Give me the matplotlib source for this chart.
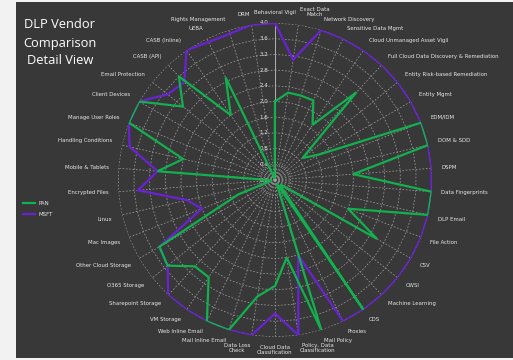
import numpy as np
import matplotlib
matplotlib.use("Agg")
import matplotlib.pyplot as plt
from matplotlib.patches import Rectangle

categories = [
    "Behavioral Vigil", "Exact Data\nMatch", "Network Discovery",
    "Sensitive Data Mgmt", "Cloud Unmanaged Asset Vigil",
    "Full Cloud Data Discovery & Remediation", "Entity Risk-based Remediation",
    "Entity Mgmt", "EDM/IDM", "DOM & SDD", "DSPM", "Data Fingerprints",
    "DLP Email", "File Action", "CSV", "CWSI", "Machine Learning", "CDS",
    "Proxies", "Mail Policy", "Policy, Data\nClassification",
    "Cloud Data\nClassification", "Data Loss\nCheck", "Mail Inline Email",
    "Web Inline Email", "VM Storage", "Sharepoint Storage", "O365 Storage",
    "Other Cloud Storage", "Mac Images", "Linux", "Encrypted Files",
    "Mobile & Tablets", "Handling Conditions", "Manage User Roles",
    "Client Devices", "Email Protection", "CASB (API)", "CASB (Inline)",
    "UEBA", "Rights Management", "DRM",
]

series_names = ["PAN", "MSFT"]

pan_scores = [
    2.0, 2.25, 2.25, 2.25, 1.7, 3.05, 0.9, 1.3, 4.0, 4.0, 2.0, 4.0, 4.0, 2.0,
    3.0, 0.2, 0.2, 4.0, 0.1, 4.0, 2.0, 2.7, 3.0, 4.0, 4.0, 3.0, 3.0, 3.5,
    3.4, 1.0, 0.1, 0.1, 3.0, 2.4, 4.0, 4.0, 3.0, 3.6, 2.0, 2.9, 0.05, 0.05,
]

msft_scores = [
    4.0, 3.1, 4.0, 4.0, 4.0, 4.0, 4.0, 4.0, 4.0, 4.0, 4.0, 4.0, 4.0, 4.0,
    4.0, 4.0, 4.0, 4.0, 4.0, 2.0, 4.0, 3.4, 4.0, 4.0, 4.0, 4.0, 4.0, 3.5,
    3.4, 2.0, 2.3, 3.5, 3.0, 3.8, 4.0, 4.0, 3.5, 3.4, 4.0, 3.9, 3.9, 4.0,
]

ring_values = [0.0, 0.4, 0.8, 1.2, 1.6, 2.0, 2.4, 2.8, 3.2, 3.6, 4.0]

series_colors = ["#12b04e", "#6a22d4"]
panel_color = "#383838"
grid_color = "#9a9a9a"
text_color = "#e6e6e6"

W, H = 513, 360
fig = plt.figure(figsize=(W / 100, H / 100), dpi=100)
fig.patch.set_facecolor("#f2f2f2")
fig.add_artist(Rectangle((16 / W, 2 / H), 1 - 16 / W, 1 - 4 / H,
                         transform=fig.transFigure, facecolor=panel_color,
                         edgecolor="none", zorder=-10))

cx, cy, R = 275, 180, 157
ax = fig.add_axes([(cx - R) / W, (H - cy - R) / H, 2 * R / W, 2 * R / H],
                  projection="polar")
ax.set_zorder(2)
ax.set_facecolor("none")
ax.set_theta_zero_location("N")
ax.set_theta_direction(-1)
ax.set_ylim(0, 4.0)
ax.grid(False)
ax.spines["polar"].set_visible(False)
ax.set_xticks([])
ax.set_yticks([])

n = len(categories)
theta = np.arange(n) * 2 * np.pi / n
theta_closed = np.append(theta, theta[0])

# polygon rings
for rv in ring_values[1:]:
    ax.plot(theta_closed, np.full(n + 1, rv), color=grid_color, lw=0.55,
            ls=(0, (2.2, 2.2)), zorder=1)
# spokes
for t in theta:
    ax.plot([t, t], [0, 4.0], color=grid_color, lw=0.55, ls=(0, (2.2, 2.2)),
            zorder=1)
# value axis along the first spoke
ax.plot([0, 0], [0, 4.0], color="#b0b0b0", lw=0.7, zorder=2)
for rv in ring_values:
    ax.annotate(f"{rv:.1f}", xy=(0, rv), xytext=(-5, 0),
                textcoords="offset points", ha="right", va="center",
                fontsize=4.0, color=text_color, zorder=3)

# series
lines = []
for vals, color, name, z in [(msft_scores, series_colors[1], series_names[1], 4),
                             (pan_scores, series_colors[0], series_names[0], 5)]:
    v = np.append(vals, vals[0])
    ln, = ax.plot(theta_closed, v, color=color, lw=1.6, zorder=z, label=name,
                  solid_joinstyle="miter")
    lines.append(ln)

# category labels
for t, lab in zip(theta, categories):
    s = np.sin(t)
    c = np.cos(t)
    if abs(s) < 0.05:
        ha = "center"
    elif s > 0:
        ha = "left"
    else:
        ha = "right"
    if abs(c) < 0.15:
        va = "center"
    elif c > 0:
        va = "bottom"
    else:
        va = "top"
    ax.annotate(lab, xy=(t, 4.0), xytext=(s * 7, c * 6),
                textcoords="offset points", ha=ha, va=va, fontsize=3.9,
                color=text_color, zorder=3, linespacing=1.0,
                multialignment="center")

# title
fig.text(60 / W, 1 - 43 / H, "DLP Vendor\nComparison\nDetail View",
         ha="center", va="center", fontsize=9.3, color="white",
         family="Open Sans", linespacing=1.5)

# legend
fig.legend(handles=lines[::-1], labels=series_names, loc="center left",
           bbox_to_anchor=(18 / W, 1 - 209 / H), frameon=False, fontsize=4.0,
           labelcolor=text_color, handlelength=2.2, handletextpad=0.6,
           labelspacing=1.0)

fig.savefig("out.png", dpi=100, facecolor=fig.get_facecolor())
